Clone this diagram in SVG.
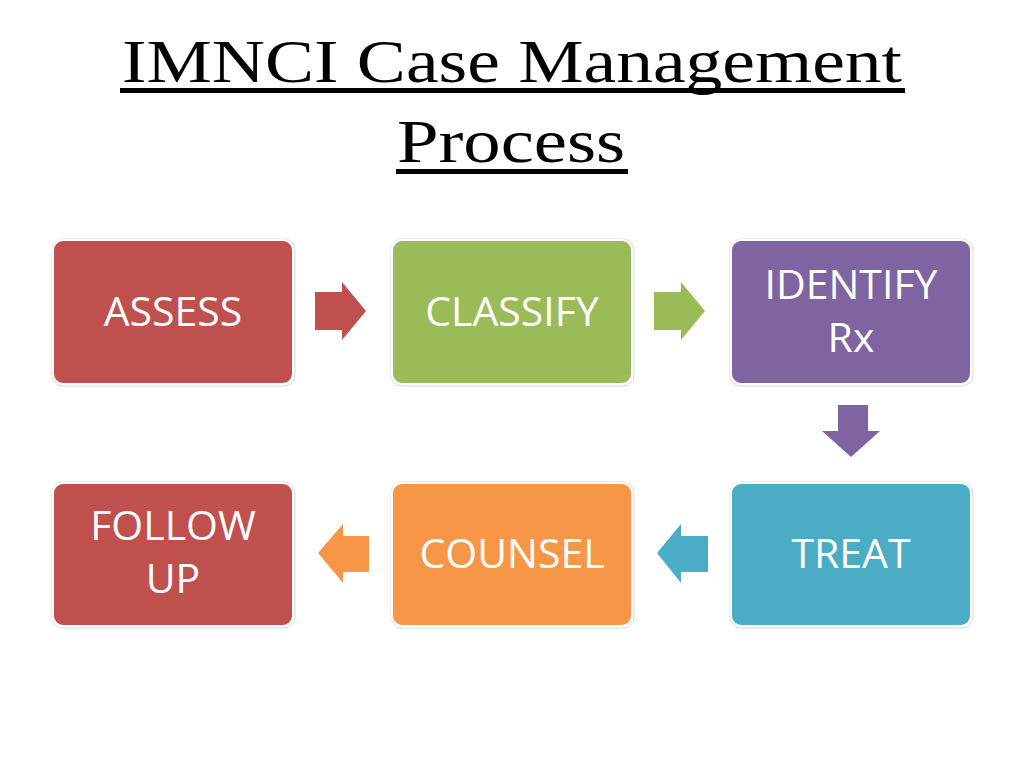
<svg xmlns="http://www.w3.org/2000/svg" width="1024" height="768" viewBox="0 0 1024 768">
<style>
.box{stroke:#ffffff;stroke-width:2}
.shadow{fill:none;stroke:#d8d8d8;stroke-width:1}
.lbl{font-family:"Open Sans","Liberation Sans",sans-serif;font-size:41px;fill:#ffffff;text-anchor:middle}
.title{font-family:"Liberation Serif",serif;font-size:62px;fill:#000000;text-anchor:middle}
</style>
<rect width="1024" height="768" fill="#ffffff"/>
<g id="title">
<text class="title" x="512" y="82" textLength="780" lengthAdjust="spacingAndGlyphs">IMNCI Case Management</text>
<rect x="120" y="88" width="785" height="5" fill="#000"/>
<text class="title" x="511" y="162" textLength="228" lengthAdjust="spacingAndGlyphs">Process</text>
<rect x="396" y="169" width="232" height="5" fill="#000"/>
</g>
<g id="assess"><rect class="shadow" x="52" y="239" width="243" height="147" rx="11"/><rect class="box" x="53" y="240" width="240" height="144" rx="10" fill="#C0504D"/><text class="lbl" x="173" y="326">ASSESS</text></g>
<g id="classify"><rect class="shadow" x="391" y="239" width="243" height="147" rx="11"/><rect class="box" x="392" y="240" width="240" height="144" rx="10" fill="#9BBB59"/><text class="lbl" x="512" y="326">CLASSIFY</text></g>
<g id="identify"><rect class="shadow" x="730" y="239" width="243" height="147" rx="11"/><rect class="box" x="731" y="240" width="240" height="144" rx="10" fill="#8064A2"/><text class="lbl" x="851" y="299">IDENTIFY</text><text class="lbl" x="851" y="352">Rx</text></g>
<g id="treat"><rect class="shadow" x="730" y="482" width="243" height="146" rx="11"/><rect class="box" x="731" y="483" width="240" height="143" rx="10" fill="#4BACC6"/><text class="lbl" x="851" y="568">TREAT</text></g>
<g id="counsel"><rect class="shadow" x="391" y="482" width="243" height="146" rx="11"/><rect class="box" x="392" y="483" width="240" height="143" rx="10" fill="#F79646"/><text class="lbl" x="512" y="568">COUNSEL</text></g>
<g id="followup"><rect class="shadow" x="52" y="482" width="243" height="146" rx="11"/><rect class="box" x="53" y="483" width="240" height="143" rx="10" fill="#C0504D"/><text class="lbl" x="173" y="540">FOLLOW</text><text class="lbl" x="173" y="593">UP</text></g>
<g id="connectors">
<polygon points="315,292 342,292 342,282 366,311 342,340 342,330 315,330" fill="#C0504D"/>
<polygon points="654,292 681,292 681,282 705,311 681,340 681,330 654,330" fill="#9BBB59"/>
<polygon points="838,405 868,405 868,431 880,431 851,457 822,431 838,431" fill="#8064A2"/>
<polygon points="708,536 681,536 681,524 657,553 681,583 681,572 708,572" fill="#4BACC6"/>
<polygon points="369,536 343,536 343,524 318,553 343,583 343,572 369,572" fill="#F79646"/>
</g>
</svg>
